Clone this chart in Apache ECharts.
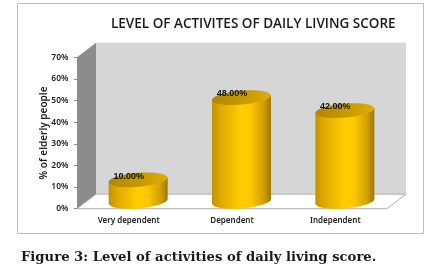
<!DOCTYPE html>
<html><head><meta charset="utf-8">
<style>html,body{margin:0;padding:0;background:#fff}#c{width:429px;height:267px}</style>
<script src="https://cdn.jsdelivr.net/npm/echarts@6/dist/echarts.min.js"></script></head>
<body><div id="c"></div>
<script>
var categories = ['Very dependent', 'Dependent', 'Independent'];
var values = [10, 48, 42];
var valueLabels = ['10.00%', '48.00%', '42.00%'];
var titleText = 'LEVEL OF ACTIVITES OF DAILY LIVING SCORE';
var captionText = 'Figure 3: Level of activities of daily living score.';
var axisTitle = '% of elderly people';

var DX = 19, DY = 14.5, RX = 29.5, RY = 7, TILT = 0.08;
var chart = echarts.init(document.getElementById('c'), null, {renderer: 'canvas'});

function renderWalls(params, api) {
  var c = params.coordSys;
  var l = c.x, r = c.x + c.width, t = c.y, b = c.y + c.height;
  return {type: 'group', silent: true, children: [
    {type: 'polygon', shape: {points: [[l + DX, t - DY], [r + DX, t - DY], [r + DX, b - DY], [l + DX, b - DY]]},
      style: {fill: '#d6d6d6'}},
    {type: 'polygon', shape: {points: [[l, t], [l + DX, t - DY], [l + DX, b - DY], [l, b]]},
      style: {fill: '#8c8c8c'}},
    {type: 'polygon', shape: {points: [[l, b], [l + DX, b - DY], [r + DX, b - DY], [r, b]]},
      style: {fill: '#ffffff', stroke: '#b0b0b0', lineWidth: 1}}
  ]};
}
function renderCyl(params, api) {
  var top = api.coord([api.value(0), api.value(1)]);
  var base = api.coord([api.value(0), 0]);
  var cx = top[0] + DX / 2, yT = top[1] - DY / 2, yB = base[1] - DY / 2;
  var s = RX * Math.sin(TILT);
  var side = new echarts.graphic.LinearGradient(cx - RX, 0, cx + RX, 0, [
    {offset: 0, color: '#c29300'}, {offset: 0.15, color: '#dfab00'},
    {offset: 0.48, color: '#ffcc00'}, {offset: 0.66, color: '#fcc800'},
    {offset: 0.88, color: '#cf9f00'}, {offset: 1, color: '#9c7600'}
  ], true);
  return {type: 'group', children: [
    {type: 'ellipse', shape: {cx: cx, cy: yB, rx: RX, ry: RY}, rotation: TILT, originX: cx, originY: yB,
      style: {fill: side}},
    {type: 'polygon', shape: {points: [[cx - RX, yT + s], [cx + RX, yT - s], [cx + RX, yB - s], [cx - RX, yB + s]]},
      style: {fill: side}},
    {type: 'ellipse', shape: {cx: cx, cy: yT, rx: RX, ry: RY}, rotation: TILT, originX: cx, originY: yT,
      style: {fill: new echarts.graphic.LinearGradient(0, 0, 1, 1, [
        {offset: 0, color: '#b08600'}, {offset: 0.55, color: '#c79a00'}, {offset: 1, color: '#e2ae00'}])}},
    {type: 'text', style: {x: top[0], y: top[1] - 11, text: valueLabels[params.dataIndex],
      align: 'center', verticalAlign: 'middle', fill: '#111',
      font: '700 9px "Liberation Sans", sans-serif'}}
  ]};
}
chart.setOption({
  animation: false,
  backgroundColor: '#ffffff',
  title: [
    {text: titleText, left: 106, top: 12,
      textStyle: {fontFamily: 'Open Sans', fontWeight: 600, fontSize: 13.5, color: '#1a1a1a'}},
    {text: captionText, left: 16, top: 246,
      textStyle: {fontFamily: 'DejaVu Serif', fontWeight: 700, fontSize: 13.2, color: '#1a1a1a'}}
  ],
  graphic: [{type: 'rect', z: -10, shape: {x: 17.5, y: 3.5, width: 406, height: 230},
    style: {fill: '#fff', stroke: '#bdbdbd', lineWidth: 1}}],
  grid: {left: 77, right: 42, top: 57.3, bottom: 58.3},
  xAxis: {type: 'category', data: categories,
    axisLine: {show: false}, axisTick: {show: false},
    axisLabel: {margin: 8, fontFamily: 'Noto Sans', fontWeight: 600, fontSize: 8, color: '#222'}},
  yAxis: {type: 'value', min: 0, max: 70, interval: 10,
    name: axisTitle, nameLocation: 'middle', nameGap: 28, nameRotate: 90, nameMoveOverlap: false,
    nameTextStyle: {fontFamily: 'Noto Sans', fontWeight: 600, fontSize: 10, color: '#222'},
    axisLine: {show: true, lineStyle: {color: '#8c8c8c'}},
    axisTick: {show: true, length: 3, lineStyle: {color: '#8c8c8c'}},
    splitLine: {show: false},
    axisLabel: {margin: 8.5, formatter: '{value}%', fontFamily: 'Noto Sans', fontWeight: 600, fontSize: 8.5, color: '#222'}},
  series: [
    {type: 'custom', z: 1, renderItem: renderWalls, data: [[0, 0]], silent: true},
    {type: 'custom', z: 2, renderItem: renderCyl,
      data: values.map(function (v, i) { return [i, v]; }), encode: {x: 0, y: 1}}
  ]
});
</script></body></html>
